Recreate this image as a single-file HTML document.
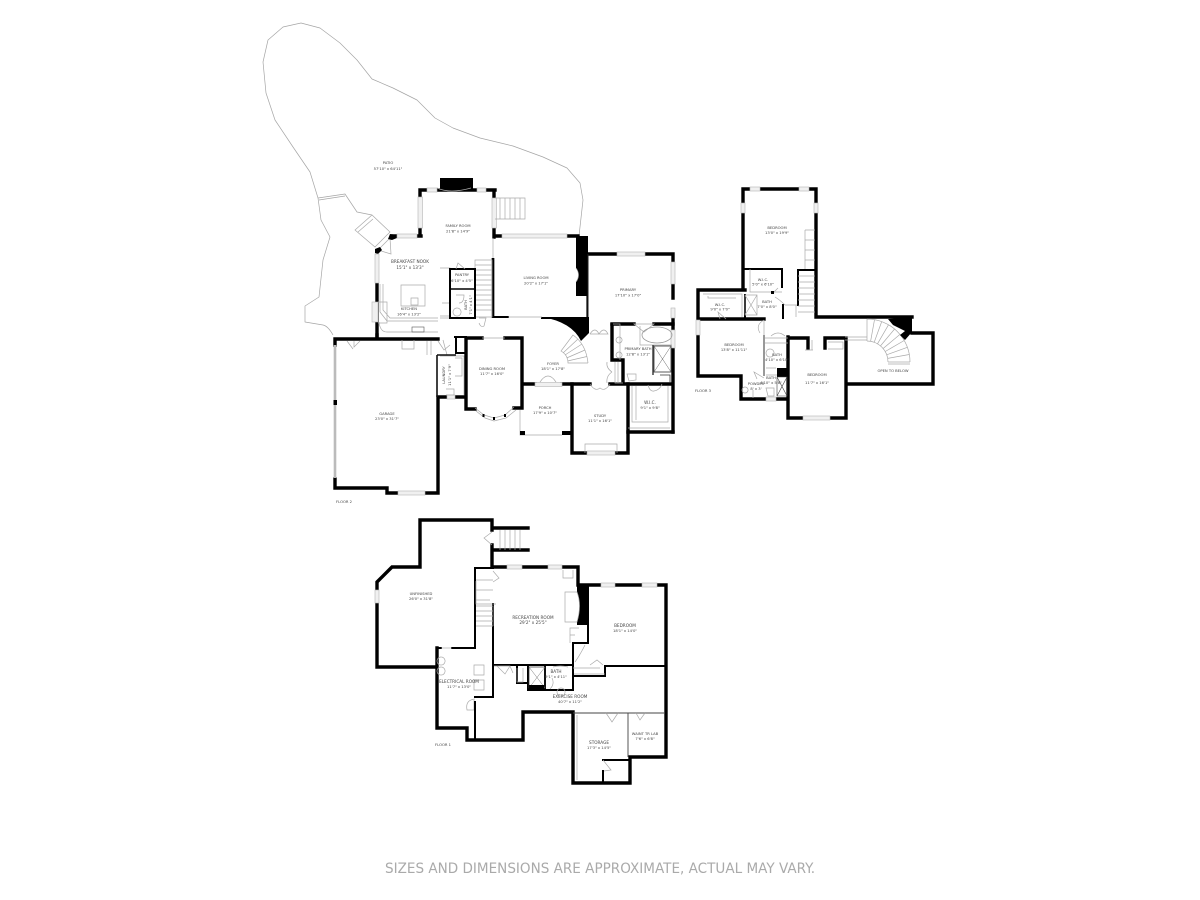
<!DOCTYPE html>
<html><head><meta charset="utf-8"><style>
html,body{margin:0;padding:0;background:#fff;width:1200px;height:900px;overflow:hidden}
svg{display:block;filter:blur(.35px)}
.w{fill:none;stroke:#000;stroke-width:3.4;stroke-linecap:square;stroke-linejoin:miter}
.m{fill:none;stroke:#000;stroke-width:2;stroke-linecap:square}
.d{fill:none;stroke:#333;stroke-width:1}
.t{fill:none;stroke:#aaa;stroke-width:.7}
.p{fill:none;stroke:#a5a5a5;stroke-width:.7;stroke-linejoin:round}
.win{fill:#f0f0f0;stroke:#b5b5b5;stroke-width:.6}
.k{fill:#000}
text{font-family:"DejaVu Sans","Liberation Sans",sans-serif;fill:#444;font-size:3.7px;text-anchor:middle}
.b{font-size:4.2px}
</style></head><body>
<svg width="1200" height="900" viewBox="0 0 1200 900" xmlns="http://www.w3.org/2000/svg">
<!-- PATIO -->
<path class="p" d="M333,335 Q328,326 323,325 L305,322 L305,306 L319,297 L323,260 L330,237 L321,220 L318,198 L310,172 L293,147 L275,120 L266,93 L263,62 L268,40 L283,27 L301,23 L320,28 L340,43 L357,60 L372,79 L393,88 L417,100 L435,118 L453,128 L480,138 L513,146 L543,157 L567,168 L580,183 L583,200 L579,236"/>
<path class="p" d="M318,198 L345,194 L357,212 L372,215 M319,200 L345,196"/>
<path class="t" d="M355,230 L372,215 L390,232 L375,247 Z M358,232 L373,219 M390,238 L378,250 L391,254 Z"/>
<!-- FLOOR 2 walls -->
<rect class="k" x="440" y="178" width="33" height="13"/>
<path class="w" d="M420,190 H495 M420,190 V236 M494,190 V198 M494,228 V237 M393,236 H421 M494,236 H578"/>
<path class="w" d="M377,284 V336"/>
<path class="k" d="M390,234 L397,235 L397,238 L392,240 L388,239 Z M375,249 L380,247 L382,250 L378,254 L375,253 Z"/>
<rect class="win" x="427" y="188" width="10" height="4"/><rect class="win" x="477" y="188" width="9" height="4"/>
<rect class="win" x="418" y="197" width="4.500" height="31"/><rect class="win" x="492" y="198" width="4.500" height="30"/>
<rect class="win" x="397" y="234" width="20" height="4"/><rect class="win" x="502" y="234" width="65" height="4"/>
<rect class="win" x="375" y="254" width="4" height="29"/>
<rect class="win" x="372" y="302" width="6" height="20"/>
<path class="t" d="M493,238 V258 M437,188 Q450,194 471,188"/>
<path d="M493,258 V318" stroke="#000" stroke-width="2.7" fill="none"/>
<rect class="k" x="576" y="236" width="12" height="60"/>
<path d="M576,268 Q581,275 576,282" fill="#fff" stroke="#aaa" stroke-width=".6"/>
<path class="w" d="M578,254 H673 M673,254 V298 M673,318 V432"/>
<rect class="win" x="617" y="252" width="28" height="4"/>
<rect class="win" x="671" y="262" width="4" height="22"/><rect class="win" x="671" y="308" width="4" height="10"/>
<rect class="win" x="671" y="330" width="4" height="18"/>
<path d="M587,296 V318" stroke="#000" stroke-width="1.2" fill="none"/>
<path d="M588,254 V325" stroke="#222" stroke-width="1" fill="none"/>
<path class="m" d="M493,317 H508 M542,318 H587"/>
<path class="t" d="M508,317 H542"/>
<!-- stairs foyer -->
<path class="t" d="M588,363 H568 Q568,355 561,351 L573,335 Q586,344 588,363 M587,356.500 L567.500,361 M585,350 L566.600,358 M582,344 L565,355 M578,339 L563,353"/>
<path class="k" d="M542,317 H589 V333 L581,341 Q572,322 542,317 Z"/>
<path class="t" d="M590,334 Q595,326 599,334 Q604,326 608,334 H590"/>
<!-- stairs -->
<path class="t" d="M475,260 H492 V317 H475 Z M475,265 H492 M475,270 H492 M475,275 H492 M475,280 H492 M475,285 H492 M475,290 H492 M475,295 H492 M475,300 H492 M475,305 H492 M475,310 H492"/>
<path class="t" d="M495,198 H525 V219 H495 M500,198 V219 M505,198 V219 M510,198 V219 M515,198 V219 M520,198 V219"/>
<!-- kitchen -->
<path class="t" d="M401,285 H425 V306 H401 Z M411,298 H418 V305 H411 Z"/>
<path class="t" d="M380,284 V312 L387,321 H438 M383,284 V310 L390,318 H438 M379,322 Q380,332 387,332 H438 M378,302 H387 V323 H378"/>
<path class="t" d="M440,268 H450 V318 H440 M442,303 H450 V316 H440"/>
<rect x="412" y="327" width="12" height="5" fill="none" stroke="#555" stroke-width=".6"/>
<path class="m" d="M450,269 H475 V318 H450 Z"/>
<path d="M451,289 H475" stroke="#000" stroke-width="1.5"/>
<path class="t" d="M456,269 L458,263 L465,269 M456,295 H464 Q464,303 459,303 M457,308 a4,4 0 1,0 .1,0 M479,318 H486 L484,326 Q481,328 479,323"/>
<!-- Garage -->
<path class="w" d="M335,339 H438 M335,339 V345 M335,479 V488 H387 V493 H438 V397 H465 M377,335 V339"/>
<path d="M335,345 V478" stroke="#bbb" stroke-width="2.6" fill="none"/>
<rect class="k" x="333.500" y="400" width="3.500" height="5"/>
<rect class="win" x="398" y="491" width="27" height="4"/>
<rect class="win" x="447" y="395" width="8" height="4"/>
<path class="t" d="M402,340 V349 H414 V340 M354,341 L354,347 L360,341 M347,341 L353,349 M427,341 V355 M431,341 V355 M443,340 L447,355 M438,341 L444,350 L450,345"/>
<path class="t" d="M440,356 H464 V395 M455,358 H462 V376 H455 M446,389 H454 V395 H446"/>
<path d="M437,355 V397 M437,355 H456" stroke="#111" stroke-width="1.6" fill="none"/>
<path class="m" d="M456,337 V353 H466 M455,337 H466"/>
<path class="w" d="M466,338 H482 M505,338 H522 V383 M522,383 V408 H514 M466,338 V409 H475"/>
<path class="t" d="M482,338 H505"/>
<path class="t" d="M475,408 L484,415 L494,418 L505,415 L514,407 M476,411 L485,418 L494,421 L506,418 L516,410"/>
<rect class="k" x="482.500" y="414" width="2" height="3"/><rect class="k" x="493" y="417" width="2" height="3"/><rect class="k" x="504" y="414" width="2" height="3"/>
<!-- Foyer bottom -->
<path class="w" d="M523,384 H535 M562,384 H590 M610,384 H672"/>
<rect class="win" x="535" y="382.500" width="27" height="4"/>
<path class="t" d="M540,382 Q548,370 556,382 M590,384 Q595,392 600,388 Q605,392 610,384"/>
<path class="t" d="M520,410 V435 H562"/>
<rect class="k" x="520" y="431" width="5" height="4"/><rect class="k" x="562" y="431" width="9" height="4"/>
<!-- Study -->
<path class="w" d="M572,384 V453 H587 M615,453 H628 V384"/>
<rect class="win" x="587" y="451" width="28" height="4"/>
<path class="t" d="M585,453 V444 H617 V453"/>
<!-- WIC -->
<path class="w" d="M628,432 H673"/>
<path class="t" d="M632,386 V422 H668 V386 M628,428 H670 M636,386 V420"/>
<path class="t" d="M648,385 Q650,392 654,391 Q660,390 662,384"/>
<!-- Primary bath -->
<path class="w" d="M612,325 V360 H623 V383"/>
<path class="w" d="M612,324 H634 M654,324 H673"/>
<path class="t" d="M634,324 H654 L644,332 Z M613,324 H620 V360 M619,337 a3,3 0 1,0 .1,0 M619,352 a3,3 0 1,0 .1,0"/>
<ellipse cx="657" cy="335" rx="15" ry="8" fill="none" stroke="#999" stroke-width=".8"/>
<path class="t" d="M640,326 V345 H672"/>
<rect x="654" y="346" width="17" height="26" fill="none" stroke="#333" stroke-width=".8"/>
<path d="M654,346 L671,372 M671,346 L654,372" stroke="#666" stroke-width=".5" fill="none"/>
<path d="M653,345 V375" stroke="#333" stroke-width="1.4" fill="none"/>
<path class="t" d="M615,362 V383 H623 M618,362 V383 M612,372 Q606,368 607,362 M612,372 Q606,376 607,383 M627,374 H636 V380 L629,381 Z"/>
<path d="M660,375 H670 V383" stroke="#333" stroke-width=".8" fill="none"/>
<!-- FLOOR 3 -->
<path class="w" d="M743,189 H816 V317 H912 M743,189 V290 M698,290 H745 M698,290 V319 H764 M698,319 V376 H741 V399 H788 M788,337 V418 H846 V338 M788,338 H808 V348 M825,348 V338 H846 M846,384 H933 V333 H912"/>
<path class="t" d="M910,362 H888 M909.300,354.500 L887.700,358.400 M907.400,347.300 L886.700,354.800 M904.200,340.500 L885.200,351.500 M900,334.400 L883.100,348.500 M894.600,329 L880.500,345.900 M888.500,324.800 L877.500,343.800 M881.700,321.600 L874.200,342.300 M874.500,319.700 L870.600,341.300 M867,319 V341 M867,319 A43,43 0 0,1 910,362 M867,341 A21,21 0 0,1 888,362 M888,364 H910"/>
<path class="k" d="M888,319 L912,317 V332 L905,340 L900,335 L905,331 L893,325 Z"/>
<rect class="win" x="750" y="187" width="10" height="4"/><rect class="win" x="799" y="187" width="10" height="4"/>
<rect class="win" x="741" y="203" width="4" height="10"/><rect class="win" x="814" y="203" width="4" height="10"/>
<rect class="win" x="696" y="320" width="4" height="15"/>
<rect class="win" x="803" y="416" width="27" height="4"/>
<rect class="win" x="766" y="397" width="10" height="4"/>
<path class="m" d="M745,269 H782 V287 M798,270 H815 M798,270 V305"/>
<path class="m" d="M783,305 V318 M745,295 V318"/>
<path class="t" d="M805,230 H815 M805,230 V269 M805,240 H815 M805,250 H815 M805,260 H815 M798,276 H815 M798,282 H815 M798,288 H815 M798,294 H815 M798,300 H815 M798,306 H815 M798,312 H815 M796,305 V317"/>
<path class="t" d="M750,269 V292 H782 M703,294 H742 V317 M708,296 V298 H736"/>
<path class="t" d="M745,295 V315 H757 V295 Z M745,295 L757,315 M757,295 L745,315 M785,305 H797 M773,293 L778,288 M775,297 Q780,300 785,305"/>
<rect class="k" x="771" y="291" width="3" height="3"/>
<path class="t" d="M764,320 Q755,325 760,333 M764,320 V335 M720,319 L718,312 L726,319"/>
<path class="d" d="M764,335 V376"/>
<path class="t" d="M765,338 H788 M765,343 H788 M771,336 Q778,330 785,336 M845,340 H867 M845,337 H867"/>
<path class="t" d="M770,349 a4,4 0 1,0 .1,0 M766,368 H776 M766,388 H774 V396 H768 Z M745,387 a3,3 0 1,0 .1,0 M753,390 V398 M757,379 L754,372 L764,378 M766,375 H777 M812,340 V350 M813,350 H805 M828,342 H843 V349 H828"/>
<rect class="k" x="777" y="368" width="11" height="9"/>
<path d="M777,377 V396 H787 V377 Z M777,377 L787,396 M787,377 L777,396" fill="none" stroke="#444" stroke-width=".6"/>
<!-- FLOOR 1 -->
<path class="w" d="M420,520 H492 V530 M492,545 V567 H507 M522,567 H548 M562,567 H578 V585 H666 V757 H630 V783 H573 V712 H523 V740 H467 V728 H437 V648 M420,520 V567 H392 L377,582 V590 M377,603 V667 H437 M492,528 H528 M492,550 H528"/>
<path class="t" d="M492,532 L484,538 L492,545 M500,530 V550 M505,530 V550 M510,530 V550 M515,530 V550 M520,530 V550"/>
<rect class="win" x="507" y="565" width="15" height="4"/><rect class="win" x="548" y="565" width="14" height="4"/>
<rect class="win" x="601" y="583" width="14" height="4"/><rect class="win" x="642" y="583" width="15" height="4"/>
<rect class="win" x="375" y="590" width="4" height="13"/>
<rect class="k" x="577" y="585" width="12" height="40"/>
<path d="M577,592 Q582,605 577,622 L565,622 V592 Z" fill="#fff" stroke="#aaa" stroke-width=".7"/>
<path class="m" d="M476,568 H493 M475,568 V648 H452 M493,604 V697 H475 M437,648 H441"/>
<path class="t" d="M441,648 H452"/>
<path class="m" d="M588,625 V643 H573 V665 H493 M605,666 H666"/>
<path class="m" d="M575,676 H605 V666 M573,665 V690 H528 V665 M517,665 V683 H528 M545,665 V690 M475,710 V740"/>
<path class="t" d="M476,580 H493 M476,581 V604 H496 M476,590 H493 M476,600 H490 M476,606 H493 V626 M476,611 H493 M476,616 H493 M476,621 H493 M476,626 H493 M493,571 L499,578 L493,582"/>
<path class="t" d="M573,570 V578 H563 V570 M579,628 H570 V643 M575,635 H570 M574,674 H605 M573,668 H600 M575,662 Q580,655 585,645 M590,665 L597,660 L603,665"/>
<rect x="529" y="667" width="16" height="21" fill="none" stroke="#333" stroke-width=".7"/>
<path d="M529,667 L545,688 M545,667 L529,688" stroke="#777" stroke-width=".5"/>
<rect class="k" x="529" y="685" width="15" height="5"/>
<path class="t" d="M494,666 H510 M497,666 L505,674 L510,666 L513,673 M517,668 V682 H523 V668 M553,667 Q560,665 568,667 M561,688 a4,4 0 1,0 .1,0 M552,678 Q555,684 550,689"/>
<path class="t" d="M441,657 a4,4 0 1,0 .1,0 M441,667 a4,4 0 1,0 .1,0 M474,665 H484 V675 H474 Z M474,680 H484 V690 H474 Z M475,699 Q465,700 467,710 H475 M474,700 V710"/>
<path class="m" d="M475,710 V702"/>
<path d="M573,713 H665 M628,713 V757" stroke="#444" stroke-width=".9" fill="none"/>
<path class="t" d="M577,715 V780 M606,713 L612,722 L618,713 M636,713 L640,720 L645,713"/>
<path class="m" d="M603,760 H630 M603,771 V783"/>
<path class="t" d="M603,760 L611,770 L604,771"/>
<!-- Labels -->
<text x="388" y="164">PATIO</text><text x="388" y="170">57'10" x 64'11"</text>
<text x="458" y="227">FAMILY ROOM</text><text x="458" y="232.500">21'8" x 14'9"</text>
<text x="410" y="263" class="b">BREAKFAST NOOK</text><text x="410" y="269" class="b">15'1" x 13'3"</text>
<text x="409" y="310">KITCHEN</text><text x="409" y="315.500">16'4" x 13'2"</text>
<text x="462" y="276">PANTRY</text><text x="462" y="282">6'10" x 4'5"</text>
<text transform="translate(467,305) rotate(-90)">BATH</text><text transform="translate(472,305) rotate(-90)">7'1" x 4'1"</text>
<text x="536" y="279">LIVING ROOM</text><text x="536" y="284.500">20'2" x 17'1"</text>
<text x="628" y="291">PRIMARY</text><text x="628" y="296.500">17'10" x 17'0"</text>
<text x="638" y="350">PRIMARY BATH</text><text x="638" y="355.500">12'8" x 13'1"</text>
<text x="553" y="365">FOYER</text><text x="553" y="370">18'1" x 17'8"</text>
<text x="492" y="370">DINING ROOM</text><text x="492" y="375">11'7" x 16'0"</text>
<text x="545" y="409">PORCH</text><text x="545" y="414">17'9" x 10'7"</text>
<text x="600" y="417">STUDY</text><text x="600" y="422">11'1" x 16'1"</text>
<text x="650" y="404" class="b">W.I.C.</text><text x="650" y="409">9'1" x 9'8"</text>
<text x="387" y="415">GARAGE</text><text x="387" y="420">23'0" x 31'7"</text>
<text transform="translate(445,375) rotate(-90)">LAUNDRY</text><text transform="translate(451,375) rotate(-90)">11'1" x 7'9"</text>
<text x="344" y="503">FLOOR 2</text>
<text x="777" y="229">BEDROOM</text><text x="777" y="234">13'0" x 19'9"</text>
<text x="763" y="281">W.I.C.</text><text x="763" y="285.500">5'0" x 6'10"</text>
<text x="767" y="303">BATH</text><text x="767" y="308">7'0" x 8'0"</text>
<text x="720" y="306">W.I.C.</text><text x="720" y="310.500">9'0" x 7'0"</text>
<text x="734" y="346">BEDROOM</text><text x="734" y="351">13'8" x 11'11"</text>
<text x="777" y="356">BATH</text><text x="777" y="361">4'10" x 6'10"</text>
<text x="771" y="379">BATH</text><text x="771" y="384">4'10" x 5'8"</text>
<text x="756" y="385">POWDER</text><text x="756" y="390">8' x 3'</text>
<text x="817" y="376">BEDROOM</text><text x="817" y="384">11'7" x 16'1"</text>
<text x="893" y="372">OPEN TO BELOW</text>
<text x="703" y="392">FLOOR 3</text>
<text x="421" y="595">UNFINISHED</text><text x="421" y="600">26'0" x 31'8"</text>
<text x="533" y="619" class="b">RECREATION ROOM</text><text x="533" y="624" class="b">29'2" x 25'5"</text>
<text x="625" y="627" class="b">BEDROOM</text><text x="625" y="632">18'1" x 14'0"</text>
<text x="556" y="673" class="b">BATH</text><text x="556" y="678">9'1" x 4'11"</text>
<text x="459" y="683" class="b">ELECTRICAL ROOM</text><text x="459" y="688">11'7" x 13'0"</text>
<text x="570" y="698" class="b">EXERCISE ROOM</text><text x="570" y="703">40'7" x 11'2"</text>
<text x="599" y="744" class="b">STORAGE</text><text x="599" y="749">17'3" x 14'5"</text>
<text x="645" y="735">WAINT TR LAB</text><text x="645" y="740">7'6" x 6'8"</text>
<text x="443" y="746">FLOOR 1</text>
<text x="600" y="873" style="font-size:14px;fill:#aaa" textLength="430" lengthAdjust="spacingAndGlyphs">SIZES AND DIMENSIONS ARE APPROXIMATE, ACTUAL MAY VARY.</text>
</svg>
</body></html>
